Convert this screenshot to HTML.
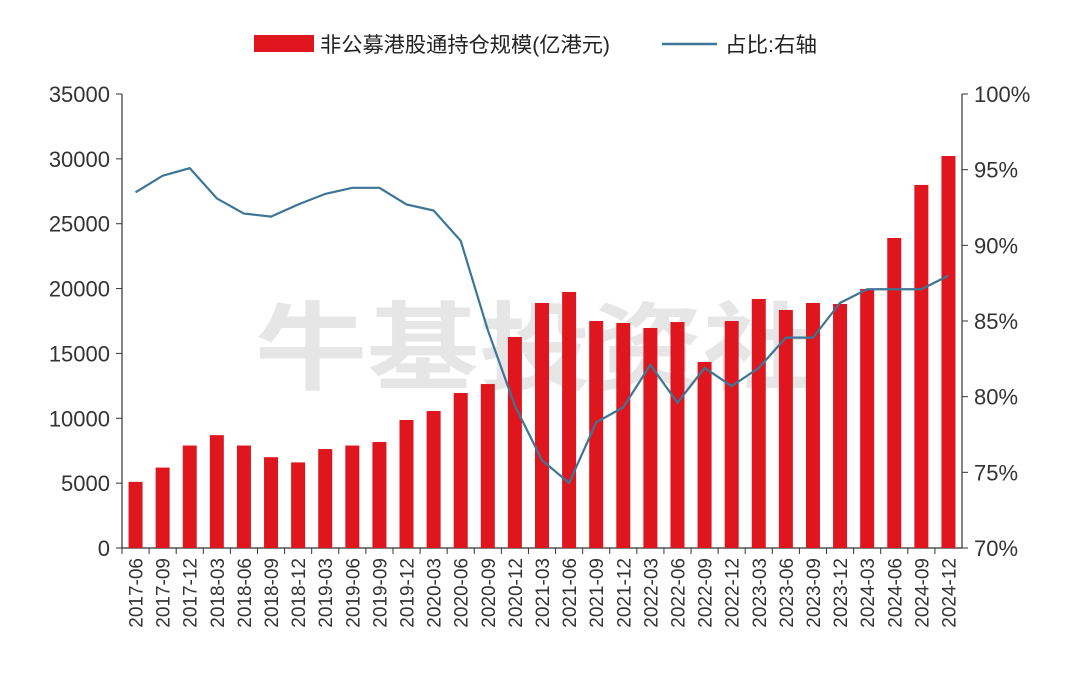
<!DOCTYPE html>
<html><head><meta charset="utf-8"><style>
html,body{margin:0;padding:0;background:#fff;}
svg{display:block;font-family:"Liberation Sans","Noto Sans CJK SC",sans-serif;}
</style></head><body>
<svg id="chart" width="1080" height="689" viewBox="0 0 1080 689">
<text x="255" y="382" font-size="96" font-weight="bold" fill="#e6e6e6" textLength="560" lengthAdjust="spacingAndGlyphs">牛基投资社</text>
<g id="legend">
<rect x="254" y="35" width="60" height="17" fill="#e0161e"/>
<text x="320" y="52" font-size="21" fill="#222" textLength="290" lengthAdjust="spacingAndGlyphs">非公募港股通持仓规模(亿港元)</text>
<line x1="662" y1="44" x2="717" y2="44" stroke="#3c7596" stroke-width="2.5"/>
<text x="725" y="52" font-size="21" fill="#222" textLength="92" lengthAdjust="spacingAndGlyphs">占比:右轴</text>
</g>
<g id="axes"></g>
<g id="bars"></g>
<g id="line"></g>
</svg>
<script>
const categories=["2017-06","2017-09","2017-12","2018-03","2018-06","2018-09","2018-12","2019-03","2019-06","2019-09","2019-12","2020-03","2020-06","2020-09","2020-12","2021-03","2021-06","2021-09","2021-12","2022-03","2022-06","2022-09","2022-12","2023-03","2023-06","2023-09","2023-12","2024-03","2024-06","2024-09","2024-12"];
const holdings=[5100,6200,7900,8700,7900,7000,6600,7630,7900,8170,9870,10560,11950,12640,16270,18890,19740,17500,17350,16960,17420,14340,17500,19200,18350,18890,18810,19970,23900,27990,30220];
const share=[93.5,94.6,95.1,93.1,92.1,91.9,92.7,93.4,93.8,93.8,92.7,92.3,90.3,84.4,79.4,75.8,74.3,78.3,79.3,82.1,79.6,81.9,80.7,81.9,83.9,83.9,86.2,87.1,87.1,87.1,88.0];
const leftTicks=[0,5000,10000,15000,20000,25000,30000,35000];
const rightTicks=[70,75,80,85,90,95,100];

const NS="http://www.w3.org/2000/svg";
const X0=122,X1=962,Y0=548,Y1=94;
const step=(X1-X0)/categories.length;
const xc=i=>X0+step*(i+0.5);
const yL=v=>Y0-(v/35000)*(Y0-Y1);
const yR=v=>Y0-((v-70)/30)*(Y0-Y1);
function mk(tag,attrs,parent,text){const e=document.createElementNS(NS,tag);for(const k in attrs)e.setAttribute(k,attrs[k]);if(text!==undefined)e.textContent=text;parent.appendChild(e);return e;}
const axes=document.getElementById('axes');
let e;
e=mk('line',{x1:X0,y1:Y1,x2:X0,y2:Y0,stroke:'#333','stroke-width':1.2},axes);


e=mk('line',{x1:X1,y1:Y1,x2:X1,y2:Y0,stroke:'#333','stroke-width':1.2},axes);


e=mk('line',{x1:X0,y1:Y0,x2:X1,y2:Y0,stroke:'#333','stroke-width':1.2},axes);


leftTicks.forEach(v=>{
  mk('line',{x1:X0-6,y1:yL(v),x2:X0,y2:yL(v),stroke:'#333'},axes);
  e=mk('text',{x:X0-12,y:yL(v)+8,'font-size':22,fill:'#333','text-anchor':'end'},axes,String(v));
  
  
});
rightTicks.forEach(v=>{
  mk('line',{x1:X1,y1:yR(v),x2:X1+6,y2:yR(v),stroke:'#333'},axes);
  e=mk('text',{x:X1+12,y:yR(v)+8,'font-size':22,fill:'#333'},axes,v+'%');
  
  
});
categories.forEach((c,i)=>{
  mk('line',{x1:X0+step*i,y1:Y0,x2:X0+step*i,y2:Y0+6,stroke:'#333'},axes);
  const x=xc(i)+7;
  e=mk('text',{x:x,y:Y0+10,'font-size':19,fill:'#333','text-anchor':'end',transform:`rotate(-90 ${x} ${Y0+10})`},axes,c);
  
  
});
const bars=document.getElementById('bars');
holdings.forEach((v,i)=>{
  e=mk('rect',{x:xc(i)-7,y:yL(v),width:14,height:Y0-yL(v),fill:'#e0161e'},bars);
  
  
});
const pts=share.map((v,i)=>xc(i)+','+yR(v)).join(' ');
e=mk('polyline',{points:pts,fill:'none',stroke:'#3c7596','stroke-width':2.2},document.getElementById('line'));


</script>
</body></html>
